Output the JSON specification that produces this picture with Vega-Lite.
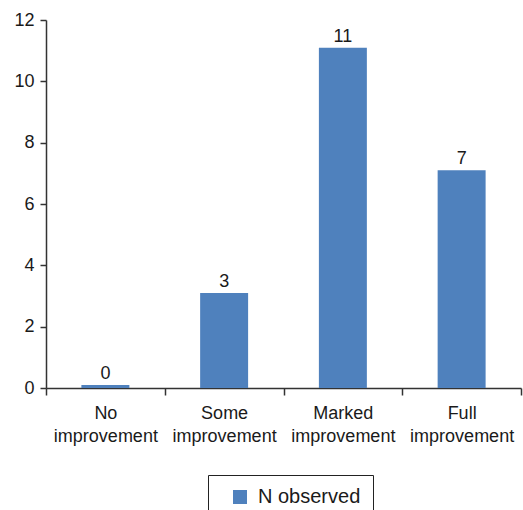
{
  "$schema": "https://vega.github.io/schema/vega-lite/v6.json",
  "width": 475,
  "height": 368,
  "autosize": "none",
  "padding": {"left": 46, "top": 20, "right": 2, "bottom": 122},
  "background": "white",
  "data": {
    "values": [
      {"outcome": "No improvement", "n": 0, "series": "N observed"},
      {"outcome": "Some improvement", "n": 3, "series": "N observed"},
      {"outcome": "Marked improvement", "n": 11, "series": "N observed"},
      {"outcome": "Full improvement", "n": 7, "series": "N observed"}
    ]
  },
  "encoding": {
    "x": {
      "field": "outcome",
      "type": "nominal",
      "sort": null,
      "scale": {"paddingInner": 0, "paddingOuter": 0},
      "axis": {
        "title": null,
        "labelAngle": 0,
        "labelExpr": "split(datum.label, ' ')",
        "labelFont": "Liberation Sans",
        "labelFontSize": 18,
        "labelLineHeight": 23,
        "labelColor": "#1a1a1a",
        "labelPadding": 9,
        "tickBand": "extent",
        "tickSize": 7,
        "tickColor": "#333",
        "domainColor": "#333",
        "domainWidth": 1.5,
        "tickWidth": 1.5,
        "grid": false
      }
    },
    "y": {
      "field": "n",
      "type": "quantitative",
      "stack": null,
      "scale": {"domain": [0, 12], "nice": false},
      "axis": {
        "title": null,
        "values": [0, 2, 4, 6, 8, 10, 12],
        "labelFont": "Liberation Sans",
        "labelFontSize": 18,
        "labelColor": "#1a1a1a",
        "labelPadding": 6,
        "tickSize": 6,
        "tickColor": "#333",
        "domainColor": "#333",
        "domainWidth": 1.5,
        "tickWidth": 1.5,
        "grid": false
      }
    }
  },
  "layer": [
    {
      "mark": {"type": "bar", "width": {"band": 0.404}, "yOffset": -3, "y2Offset": 3},
      "encoding": {
        "color": {
          "field": "series",
          "type": "nominal",
          "scale": {"range": ["#4f81bd"]},
          "legend": {
            "title": null,
            "orient": "none",
            "legendX": 162,
            "legendY": 455,
            "strokeColor": "#222",
            "padding": 12,
            "symbolType": "square",
            "symbolSize": 196,
            "symbolOffset": 10,
            "symbolStrokeWidth": 0,
            "labelFont": "Liberation Sans",
            "labelFontSize": 20,
            "labelColor": "#1a1a1a",
            "labelOffset": 8
          }
        }
      }
    },
    {
      "mark": {"type": "text", "baseline": "alphabetic", "dy": -9, "font": "Liberation Sans", "fontSize": 18, "color": "#1a1a1a"},
      "encoding": {
        "text": {"field": "n", "type": "quantitative"}
      }
    }
  ],
  "config": {"view": {"stroke": null}}
}
